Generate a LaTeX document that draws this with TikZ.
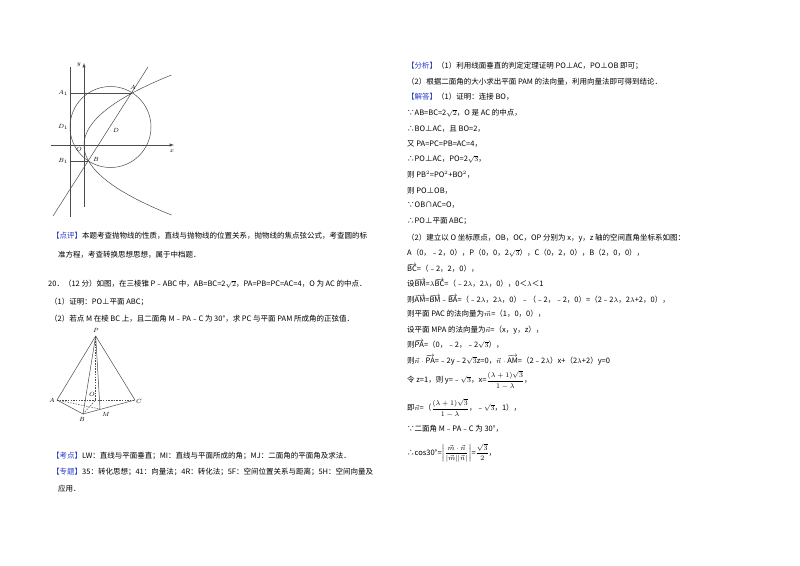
\documentclass[tikz,border=0pt]{standalone}
\usepackage{fontspec}
\setmainfont{Noto Sans CJK SC}
\usepackage{amsmath}
\definecolor{lb}{RGB}{40,60,200}
\begin{document}
\begin{tikzpicture}[x=1pt,y=-1pt,
  tx/.style={anchor=west,inner sep=0pt,font=\fontsize{7.5}{9}\selectfont},
  lab/.style={inner sep=0.5pt,font=\fontsize{6.5}{7}\selectfont},
  ln/.style={draw=black!70,line width=0.5pt},
  dsh/.style={draw=black!70,line width=0.5pt,dashed,dash pattern=on 1.5pt off 1.2pt}]
\useasboundingbox[fill=white] (0,0) rectangle (800,565);
% ---- figure 1
\coordinate (yb) at (84,207); \coordinate (yt) at (84,63);
\coordinate (xl) at (51,145); \coordinate (xr) at (174,145);
\draw[ln,-latex] (yb) -- (yt);
\draw[ln,-latex] (xl) -- (xr);
\coordinate (dt) at (70,67); \coordinate (db) at (70,217);
\draw[ln] (dt) -- (db);
\coordinate (cc) at (110.5,127);
\draw[ln] (cc) circle (40.5);
\draw[ln] plot[domain=-70:70,samples=80] ({84+\x*\x/56},{145-\x});
\coordinate (A) at (132,93); \coordinate (B) at (88,161);
\coordinate (A1) at (70,93); \coordinate (B1) at (70,161);
\coordinate (l1) at (53,216); \coordinate (l2) at (148,67);
\draw[ln] (l1) -- (l2);
\draw[ln] (A1) -- (A); \draw[ln] (B1) -- (B);
\node[lab] (ly) at (79,65) {$y$};
\node[lab] (lx) at (172,151) {$x$};
\node[lab] (lA) at (133,87) {$A$};
\node[lab] (lA1) at (63,93) {$A_1$};
\node[lab] (lD1) at (63,127) {$D_1$};
\node[lab] (lD) at (116,130) {$D$};
\node[lab] (lO) at (79,149) {$O$};
\node[lab] (lB) at (96,159) {$B$};
\node[lab] (lB1) at (63,161) {$B_1$};
% ---- tetrahedron
\coordinate (P) at (95.7,336); \coordinate (TA) at (57,400);
\coordinate (TC) at (135,400); \coordinate (TB) at (83,414);
\coordinate (TO) at (95.7,400); \coordinate (TM) at (100,409);
\draw[ln] (P) -- (TA); \draw[ln] (P) -- (TC); \draw[ln] (P) -- (TB);
\draw[ln] (P) -- (TM); \draw[ln] (TA) -- (TB); \draw[ln] (TB) -- (TC);
\draw[dsh] (TA) -- (TC); \draw[dsh] (P) -- (TO); \draw[dsh] (TA) -- (TM);
\draw[dsh] (TB) -- (TO);
\node[lab] (tP) at (96,330) {$P$};
\node[lab] (tA) at (52,400) {$A$};
\node[lab] (tC) at (139,401) {$C$};
\node[lab] (tB) at (82,419) {$B$};
\node[lab] (tM) at (106,414) {$M$};
\node[lab] (tO) at (92,394) {$O$};
% ---- left text
\node[tx] (a1) at (52,236) {\textcolor{lb}{【点评】}本题考查抛物线的性质，直线与抛物线的位置关系，抛物线的焦点弦公式，考查圆的标};
\node[tx] (a2) at (58,255) {准方程，考查转换思想思想，属于中档题．};
\node[tx] (a3) at (48,284) {20．（12 分）如图，在三棱锥 P﹣ABC 中，AB=BC=2$\sqrt{2}$，PA=PB=PC=AC=4，O 为 AC 的中点．};
\node[tx] (a4) at (50,302) {（1）证明：PO⊥平面 ABC；};
\node[tx] (a5) at (50,319) {（2）若点 M 在棱 BC 上，且二面角 M﹣PA﹣C 为 30°，求 PC 与平面 PAM 所成角的正弦值．};
\node[tx] (a6) at (52,456) {\textcolor{lb}{【考点】}LW：直线与平面垂直；MI：直线与平面所成的角；MJ：二面角的平面角及求法．};
\node[tx] (a7) at (52,472) {\textcolor{lb}{【专题】}35：转化思想；41：向量法；4R：转化法；5F：空间位置关系与距离；5H：空间向量及};
\node[tx] (a8) at (58,489) {应用．};
% ---- right text
\node[tx] (b1) at (407,66) {\textcolor{lb}{【分析】}（1）利用线面垂直的判定定理证明 PO⊥AC，PO⊥OB 即可；};
\node[tx] (b2) at (407,82) {（2）根据二面角的大小求出平面 PAM 的法向量，利用向量法即可得到结论．};
\node[tx] (b3) at (407,97) {\textcolor{lb}{【解答】}（1）证明：连接 BO，};
\node[tx] (b4) at (407,113) {∵AB=BC=2$\sqrt{2}$，O 是 AC 的中点，};
\node[tx] (b5) at (407,129) {∴BO⊥AC，且 BO=2，};
\node[tx] (b6) at (407,144) {又 PA=PC=PB=AC=4，};
\node[tx] (b7) at (407,159) {∴PO⊥AC，PO=2$\sqrt{3}$，};
\node[tx] (b8) at (407,175) {则 PB$^2$=PO$^2$+BO$^2$，};
\node[tx] (b9) at (407,191) {则 PO⊥OB，};
\node[tx] (b10) at (407,205) {∵OB∩AC=O，};
\node[tx] (b11) at (407,221) {∴PO⊥平面 ABC；};
\node[tx] (c1) at (407,238) {（2）建立以 O 坐标原点，OB，OC，OP 分别为 x，y，z 轴的空间直角坐标系如图：};
\node[tx] (c2) at (407,253) {A（0，﹣2，0），P（0，0，2$\sqrt{3}$），C（0，2，0），B（2，0，0），};
\node[tx] (c3) at (407,268) {$\overrightarrow{\mathrm{BC}}$=（﹣2，2，0），};
\node[tx] (c4) at (407,283) {设$\overrightarrow{\mathrm{BM}}$=$\lambda\overrightarrow{\mathrm{BC}}$=（﹣2$\lambda$，2$\lambda$，0），0＜$\lambda$＜1};
\node[tx] (c5) at (407,299) {则$\overrightarrow{\mathrm{AM}}$=$\overrightarrow{\mathrm{BM}}$﹣$\overrightarrow{\mathrm{BA}}$=（﹣2$\lambda$，2$\lambda$，0）﹣（﹣2，﹣2，0）=（2﹣2$\lambda$，2$\lambda$+2，0），};
\node[tx] (c6) at (407,314) {则平面 PAC 的法向量为$\vec{m}$=（1，0，0），};
\node[tx] (c7) at (407,330) {设平面 MPA 的法向量为$\vec{n}$=（x，y，z），};
\node[tx] (c8) at (407,344) {则$\overrightarrow{\mathrm{PA}}$=（0，﹣2，﹣2$\sqrt{3}$），};
\node[tx] (c9) at (407,360) {则$\vec{n}\cdot\overrightarrow{\mathrm{PA}}$=﹣2y﹣2$\sqrt{3}$z=0，$\vec{n}\cdot\overrightarrow{\mathrm{AM}}$=（2﹣2$\lambda$）x+（2$\lambda$+2）y=0};
\node[tx] (c10) at (407,380) {令 z=1，则 y=﹣$\sqrt{3}$，x=$\dfrac{(\lambda+1)\sqrt{3}}{1-\lambda}$，};
\node[tx] (c11) at (407,408) {即$\vec{n}$=（$\dfrac{(\lambda+1)\sqrt{3}}{1-\lambda}$，﹣$\sqrt{3}$，1），};
\node[tx] (c12) at (407,429) {∵二面角 M﹣PA﹣C 为 30°，};
\node[tx] (c13) at (407,453) {∴cos30°=$\left|\dfrac{\vec{m}\cdot\vec{n}}{|\vec{m}||\vec{n}|}\right|$=$\dfrac{\sqrt{3}}{2}$，};
\end{tikzpicture}
\end{document}
